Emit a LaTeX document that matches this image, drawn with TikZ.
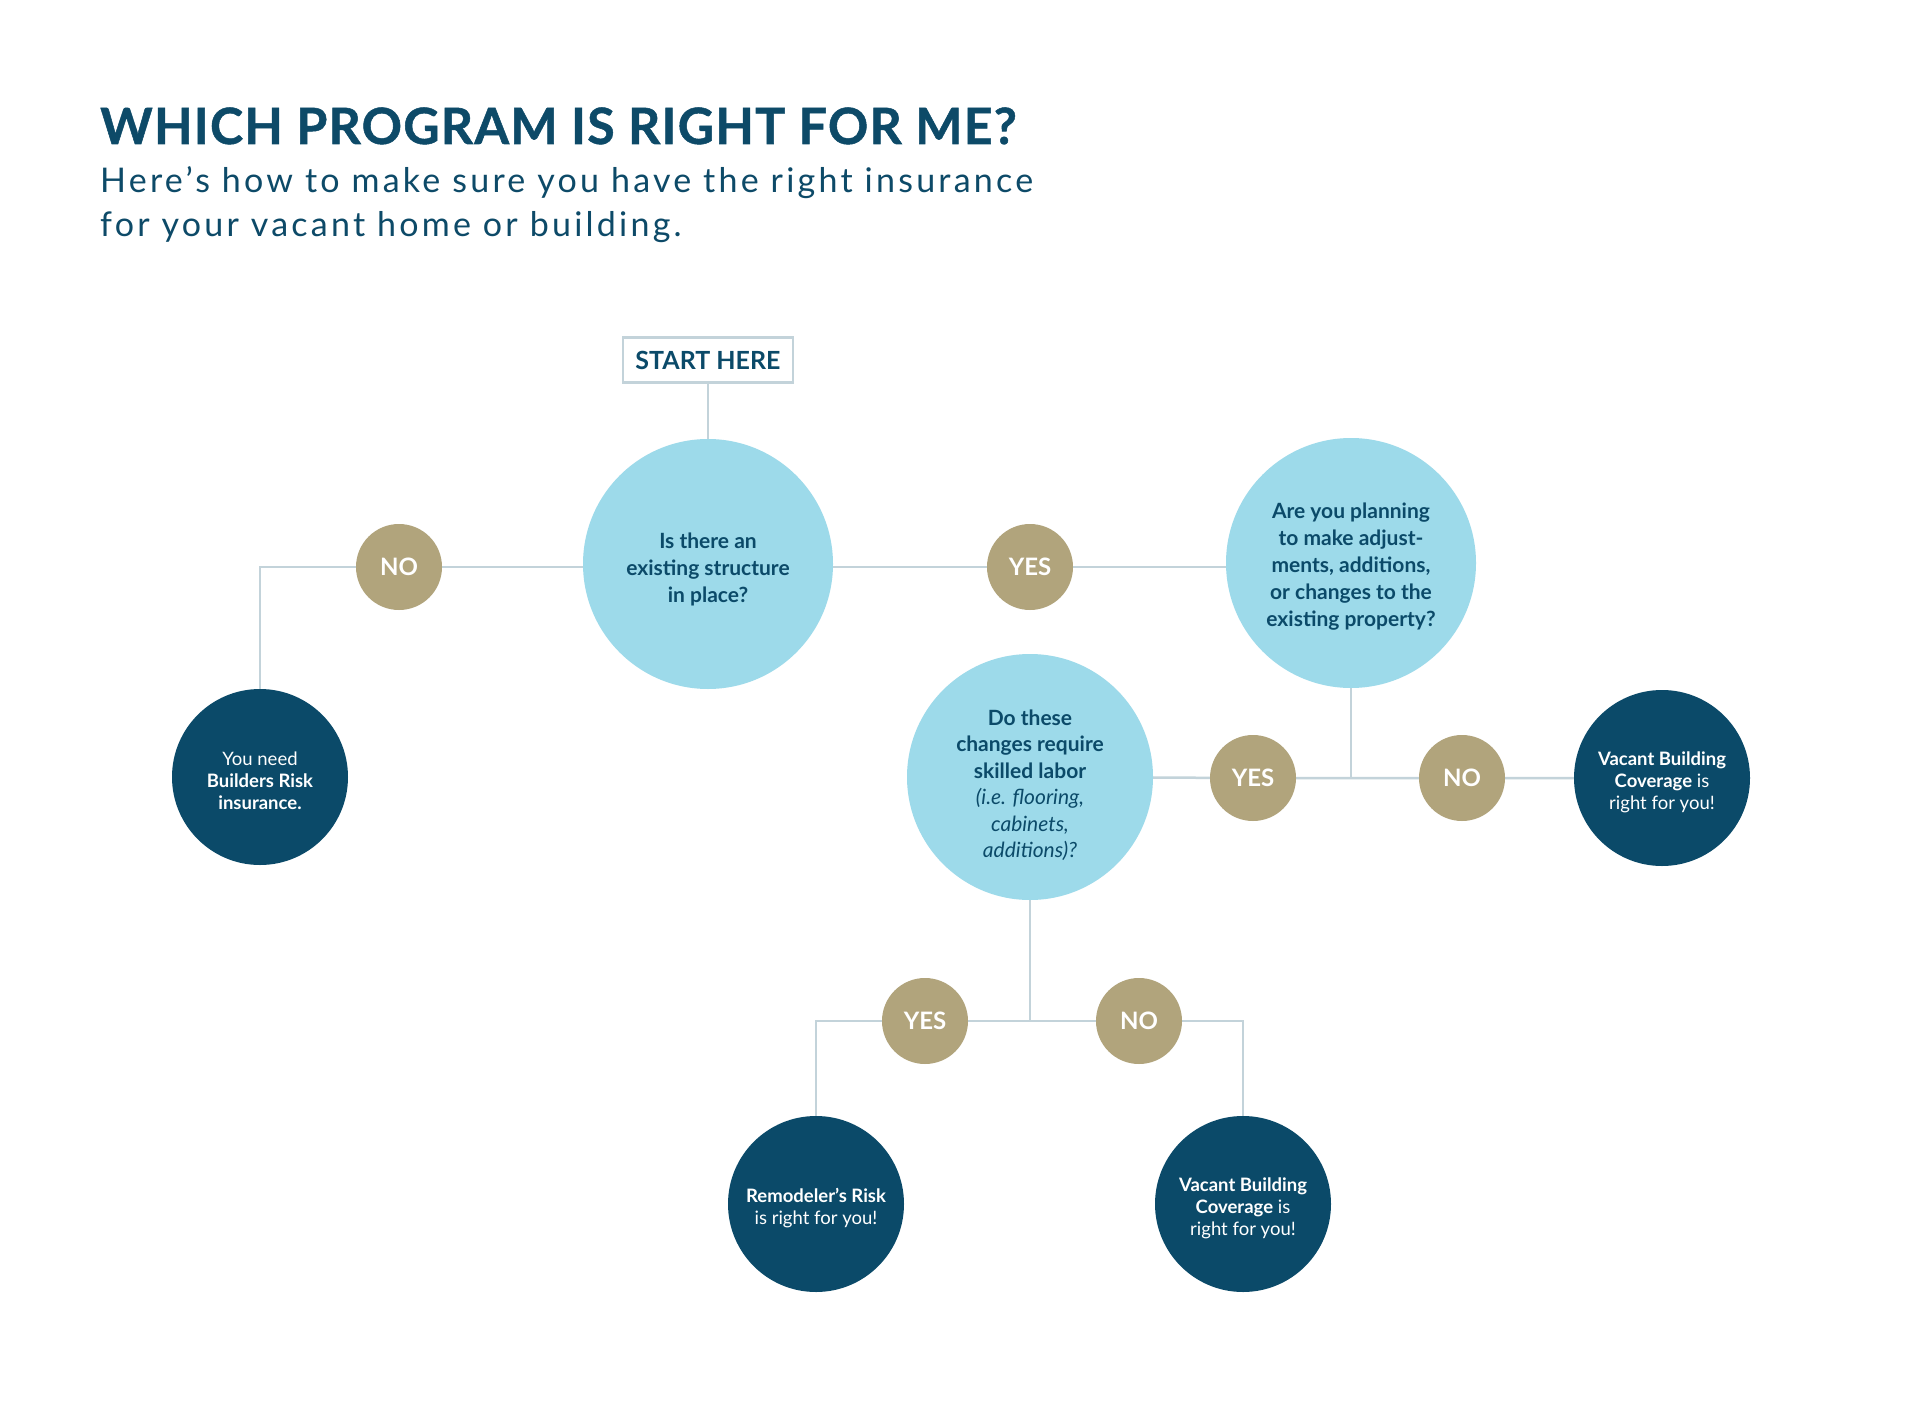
\documentclass[tikz,border=0pt]{standalone}
\usepackage{fontspec}
\setmainfont{Lato}
\usetikzlibrary{positioning}
\definecolor{navy}{HTML}{0B4A69}
\definecolor{sky}{HTML}{9DDAEA}
\definecolor{tan}{HTML}{B1A47C}
\definecolor{wire}{HTML}{C3D3DA}
\definecolor{titlec}{HTML}{0D4A68}
\pgfdeclarelayer{bg}
\pgfsetlayers{bg,main}
\tikzset{
  question/.style={circle, fill=sky, minimum size=250pt, inner sep=0pt, align=center, text=navy, font=\fontsize{21}{27}\selectfont\bfseries},
  answer/.style={circle, fill=navy, minimum size=176pt, inner sep=0pt, align=center, text=white, font=\fontsize{18.5}{22}\selectfont},
  choice/.style={circle, fill=tan, minimum size=86pt, inner sep=0pt, text=white, font=\fontsize{24}{24}\selectfont\bfseries},
  wireline/.style={draw=wire, line width=2.5pt},
}
\begin{document}
\begin{tikzpicture}[x=1pt,y=-1pt]
\begin{pgfonlayer}{bg}
\fill[white] (0,0) rectangle (1920,1418);
\end{pgfonlayer}
\node[anchor=base west, text=titlec, font=\fontsize{50}{50}\selectfont\bfseries\addfontfeatures{LetterSpace=2.6,FakeBold=1}, inner sep=0pt] (title) at (100,144) {WHICH PROGRAM IS RIGHT FOR ME?};
\node[anchor=base west, text=titlec, font=\fontsize{34}{44}\selectfont\addfontfeatures{LetterSpace=9.5}, inner sep=0pt, align=left] (sub) at (100,236) {Here’s how to make sure you have the right insurance\\for your vacant home or building.};

\node[draw=wire, line width=2.5pt, fill=white, minimum width=170pt, minimum height=45pt, text=navy, font=\fontsize{25}{25}\selectfont\bfseries] (start) at (708,360) {START HERE};

\node[question] (q1) at (708,564) {\rule{0pt}{26pt}Is there an\\existing structure\\in place?};
\node[question] (q2) at (1351,563) {\rule{0pt}{22pt}Are you planning\\to make adjust-\\ments, additions,\\or changes to the\\existing property?};
\node[question, minimum size=246pt, font=\fontsize{21}{26.5}\selectfont\bfseries] (q3) at (1030,777) {\rule{0pt}{32pt}Do these\\changes require\\skilled labor\\{\mdseries\itshape (i.e. flooring,}\\{\mdseries\itshape cabinets,}\\{\mdseries\itshape additions)?}};

\node[choice] (no1) at (399,567) {NO};
\node[choice] (yes1) at (1030,567) {YES};
\node[choice] (yes2) at (1253,778) {YES};
\node[choice] (no2) at (1462,778) {NO};
\node[choice] (yes3) at (925,1021) {YES};
\node[choice] (no3) at (1139,1021) {NO};

\node[answer] (builders) at (260,777) {\rule{0pt}{22pt}You need\\\textbf{Builders Risk}\\\textbf{insurance.}};
\node[answer] (vac1) at (1662,778) {\rule{0pt}{22pt}\textbf{Vacant Building}\\\textbf{Coverage} is\\right for you!};
\node[answer] (remod) at (816,1204) {\rule{0pt}{22pt}\textbf{Remodeler’s Risk}\\is right for you!};
\node[answer] (vac2) at (1243,1204) {\rule{0pt}{22pt}\textbf{Vacant Building}\\\textbf{Coverage} is\\right for you!};

\coordinate (j1) at (1351,778);
\coordinate (j2) at (1030,1021);

\begin{pgfonlayer}{bg}
\draw[wireline] (start) -- (q1);
\draw[wireline] (q1.center |- no1) -- (no1);
\draw[wireline] (no1) -| (builders);
\draw[wireline] (q1.center |- yes1) -- (yes1) -- (yes1 -| q2.center);
\draw[wireline] (q2) -- (j1);
\draw[wireline] (q3) -- (yes2) -- (j1) -- (no2) -- (vac1);
\draw[wireline] (q3) -- (j2);
\draw[wireline] (yes3) -- (j2) -- (no3);
\draw[wireline] (yes3) -| (remod);
\draw[wireline] (no3) -| (vac2);
\end{pgfonlayer}
\end{tikzpicture}
\end{document}
